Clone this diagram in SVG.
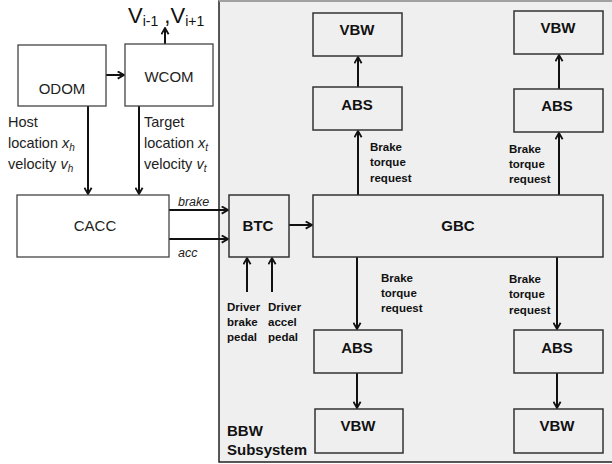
<svg xmlns="http://www.w3.org/2000/svg" width="612" height="464" viewBox="0 0 612 464">
<defs>
<style>
.box{fill:#fff;stroke:#444;stroke-width:1.3}
.pbox{fill:#efefef;stroke:#333;stroke-width:1.5}
.t{font-family:"Liberation Sans",Arial,sans-serif;font-size:15px;fill:#222;text-anchor:middle}
.tb{font-family:"Liberation Sans",Arial,sans-serif;font-size:15px;font-weight:bold;fill:#111;text-anchor:middle}
.tbl{font-family:"Liberation Sans",Arial,sans-serif;font-size:15px;font-weight:bold;fill:#111}
.lab{font-family:"Liberation Sans",Arial,sans-serif;font-size:14.5px;fill:#222}
.sm{font-family:"Liberation Sans",Arial,sans-serif;font-size:11.5px;font-weight:bold;fill:#111}
.it{font-family:"Liberation Sans",Arial,sans-serif;font-size:12.5px;font-style:italic;fill:#222}
.c{fill:none;stroke:#111;stroke-width:2;marker-end:url(#ah)}
</style>
<marker id="ah" viewBox="0 0 10 10" refX="9" refY="5" markerWidth="9" markerHeight="9" orient="auto" markerUnits="userSpaceOnUse">
<path d="M2,1 L9,5 L2,9" fill="none" stroke="#111" stroke-width="2"/>
</marker>
</defs>
<rect x="219" y="1" width="400" height="461" fill="#efefef" stroke="#222" stroke-width="1.5"/>
<line x1="219" y1="1" x2="612" y2="1" stroke="#bbb" stroke-width="1.5"/>

<g id="connectors">
<line class="c" x1="106" y1="75" x2="124" y2="75"/>
<line class="c" x1="165" y1="44" x2="165" y2="28"/>
<line class="c" x1="88" y1="106" x2="88" y2="194"/>
<line class="c" x1="139" y1="106" x2="139" y2="194"/>
<line class="c" x1="169" y1="210" x2="228" y2="210"/>
<line class="c" x1="169" y1="239" x2="228" y2="239"/>
<line class="c" x1="289" y1="225" x2="312" y2="225"/>
<line class="c" x1="247" y1="292" x2="247" y2="258"/>
<line class="c" x1="272" y1="292" x2="272" y2="258"/>
<line class="c" x1="358" y1="195" x2="358" y2="131"/>
<line class="c" x1="358" y1="87" x2="358" y2="57"/>
<line class="c" x1="559" y1="195" x2="559" y2="133"/>
<line class="c" x1="559" y1="89" x2="559" y2="55"/>
<line class="c" x1="357" y1="257" x2="357" y2="329"/>
<line class="c" x1="357" y1="373" x2="357" y2="408"/>
<line class="c" x1="557" y1="257" x2="557" y2="329"/>
<line class="c" x1="557" y1="373" x2="557" y2="408"/>
</g>

<g id="vlabel">
<text x="128" y="23" font-family="Liberation Sans,Arial,sans-serif" font-size="22" fill="#111">V<tspan font-size="14" dy="3">i-1</tspan><tspan dy="-3"> ,V</tspan><tspan font-size="14" dy="3">i+1</tspan></text>
</g>

<g id="odom"><rect class="box" x="18" y="45" width="88" height="61"/><text class="t" x="62" y="94">ODOM</text></g>
<g id="wcom"><rect class="box" x="125" y="44" width="88" height="62"/><text class="t" x="169" y="82">WCOM</text></g>

<g id="hostlab">
<text class="lab" x="8" y="127">Host</text>
<text class="lab" x="8" y="148">location <tspan font-style="italic">x</tspan><tspan font-style="italic" font-size="10" dy="3">h</tspan></text>
<text class="lab" x="8" y="169">velocity <tspan font-style="italic">v</tspan><tspan font-style="italic" font-size="10" dy="3">h</tspan></text>
</g>
<g id="targetlab">
<text class="lab" x="144" y="127">Target</text>
<text class="lab" x="144" y="148">location <tspan font-style="italic">x</tspan><tspan font-style="italic" font-size="10" dy="3">t</tspan></text>
<text class="lab" x="144" y="169">velocity <tspan font-style="italic">v</tspan><tspan font-style="italic" font-size="10" dy="3">t</tspan></text>
</g>

<g id="cacc"><rect class="box" x="17" y="195" width="152" height="62"/><text class="t" x="95" y="231">CACC</text></g>
<text class="it" x="178" y="206">brake</text>
<text class="it" x="178" y="257">acc</text>

<g id="btc"><rect class="pbox" x="229" y="195" width="60" height="62"/><text class="tb" x="258" y="231">BTC</text></g>
<g id="gbc"><rect class="pbox" x="313" y="195" width="290" height="62"/><text class="tb" x="458" y="231">GBC</text></g>

<g id="driverlab">
<text class="sm" x="227" y="311">Driver</text>
<text class="sm" x="227" y="326">brake</text>
<text class="sm" x="227" y="341">pedal</text>
<text class="sm" x="268" y="311">Driver</text>
<text class="sm" x="268" y="326">accel</text>
<text class="sm" x="268" y="341">pedal</text>
</g>

<g id="vbw1"><rect class="pbox" x="313" y="13" width="89" height="43"/><text class="tb" x="357" y="35">VBW</text></g>
<g id="abs1"><rect class="pbox" x="313" y="87" width="89" height="43"/><text class="tb" x="357" y="110">ABS</text></g>
<g id="vbw2"><rect class="pbox" x="514" y="11" width="89" height="43"/><text class="tb" x="558" y="33">VBW</text></g>
<g id="abs2"><rect class="pbox" x="514" y="89" width="89" height="43"/><text class="tb" x="557" y="111">ABS</text></g>
<g id="abs3"><rect class="pbox" x="314" y="330" width="88" height="43"/><text class="tb" x="357" y="353">ABS</text></g>
<g id="vbw3"><rect class="pbox" x="315" y="409" width="88" height="44"/><text class="tb" x="358" y="431">VBW</text></g>
<g id="abs4"><rect class="pbox" x="514" y="330" width="89" height="43"/><text class="tb" x="557" y="353">ABS</text></g>
<g id="vbw4"><rect class="pbox" x="514" y="409" width="89" height="44"/><text class="tb" x="557" y="431">VBW</text></g>

<g id="btr">
<text class="sm" x="370" y="151">Brake</text><text class="sm" x="370" y="166">torque</text><text class="sm" x="370" y="182">request</text>
<text class="sm" x="509" y="153">Brake</text><text class="sm" x="509" y="168">torque</text><text class="sm" x="509" y="183">request</text>
<text class="sm" x="381" y="282">Brake</text><text class="sm" x="381" y="297">torque</text><text class="sm" x="381" y="312">request</text>
<text class="sm" x="509" y="283">Brake</text><text class="sm" x="509" y="298">torque</text><text class="sm" x="509" y="314">request</text>
</g>

<g id="bbw">
<text class="tbl" x="227" y="436">BBW</text>
<text class="tbl" x="227" y="455">Subsystem</text>
</g>
</svg>
